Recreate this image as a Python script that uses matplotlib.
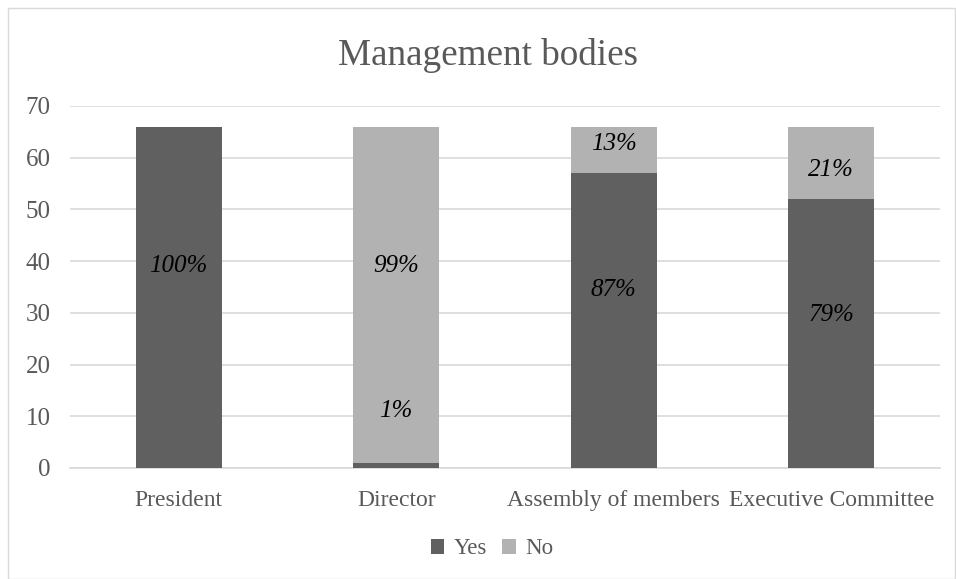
import numpy as np
import matplotlib.pyplot as plt
from matplotlib.patches import Rectangle

plt.rcParams['font.family'] = ['Liberation Serif', 'DejaVu Serif']

# veri
categories = ['President', 'Director', 'Assembly of members', 'Executive Committee']
yes_vals = [66, 1, 57, 52]
no_vals = [0, 65, 9, 14]
yes_labels = ['100%', '1%', '87%', '79%']
no_labels = ['', '99%', '13%', '21%']
# etiketlerin dikey konumları (grafikte elle yerleştirilmiş)
yes_label_y = [39, 11, 34.5, 29.5]
no_label_y = [None, 39, 62.7, 57.6]

c_yes = '#606060'
c_no = '#b2b2b2'
txt = '#595959'

fig = plt.figure(figsize=(9.56, 5.79), dpi=100)
ax = fig.add_axes([70/956, 1 - 468/579, 870/956, (468 - 106)/579])

x = np.arange(len(categories))
w = 0.395
ax.bar(x, yes_vals, w, color=c_yes, label='Yes', zorder=3)
ax.bar(x, no_vals, w, bottom=yes_vals, color=c_no, label='No', zorder=3)

for i in range(len(categories)):
    ax.text(x[i], yes_label_y[i], yes_labels[i], ha='center', va='center',
            fontsize=18, style='italic', color='black', zorder=4)
    if no_labels[i]:
        ax.text(x[i], no_label_y[i], no_labels[i], ha='center', va='center',
                fontsize=18, style='italic', color='black', zorder=4)

ax.set_xlim(-0.5, len(categories) - 0.5)
ax.set_ylim(0, 70)
ax.set_yticks(range(0, 71, 10))
ax.yaxis.grid(True, color='#d9d9d9', linewidth=1.2, zorder=0)
for s in ax.spines.values():
    s.set_visible(False)
ax.spines['bottom'].set_visible(True)
ax.spines['bottom'].set_color('#d9d9d9')
ax.spines['bottom'].set_linewidth(1.2)
ax.tick_params(length=0, labelcolor=txt)
ax.tick_params(axis='y', pad=14, labelsize=18)
ax.tick_params(axis='x', pad=16, labelsize=17)
ax.set_xticks(x)
ax.set_xticklabels(categories)

fig.text(488/956, 1 - 65/579, 'Management bodies', ha='center', va='baseline',
         fontsize=26.7, color=txt)

leg = fig.legend(loc='center', bbox_to_anchor=(492/956, 1 - 549/579), ncol=2,
                 frameon=False, fontsize=16.5, handlelength=0.6, handleheight=0.6,
                 handletextpad=0.4, columnspacing=0.68)
for t in leg.get_texts():
    t.set_color(txt)

fig.patches.append(Rectangle((8/956, 0), 947/956, 571/579, transform=fig.transFigure,
                             fill=False, edgecolor='#d9d9d9', linewidth=1))

plt.savefig('out.png', dpi=100)
